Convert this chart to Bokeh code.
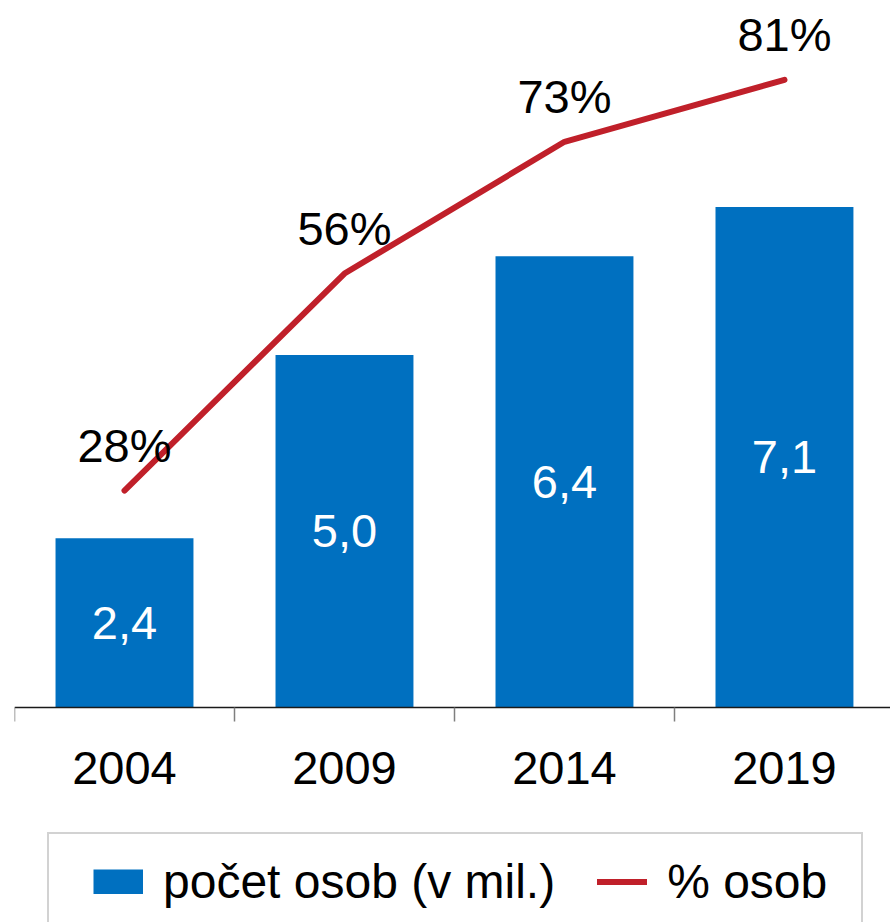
from bokeh.plotting import figure
from bokeh.models import Range1d, LinearAxis, FixedTicker, Legend, LegendItem, ColumnDataSource
from bokeh.core.properties import value
from bokeh.embed import file_html
from bokeh.resources import INLINE

years = ["2004", "2009", "2014", "2019"]
count_mil = [2.4, 5.0, 6.4, 7.1]
count_labels = ["2,4", "5,0", "6,4", "7,1"]
share_pct = [28, 56, 73, 81]
share_labels = ["28%", "56%", "73%", "81%"]

FONT = "Liberation Sans"
BLUE = "#0070C0"
RED = "#C0202A"

xpos = [i + 0.5 for i in range(len(years))]
src = ColumnDataSource(dict(
    x=xpos, cnt=count_mil, mid=[c / 2 for c in count_mil], cnt_lab=count_labels,
    pct=share_pct, pct_lab=share_labels))

p = figure(width=890, height=922, output_backend="svg", toolbar_location=None,
           x_range=Range1d(0, 3.982), y_range=Range1d(-3.050, 10.028),
           x_axis_location=None, y_axis_location=None,
           min_border_left=14, min_border_right=0, min_border_top=0, min_border_bottom=0)
p.extra_y_ranges = {"pct": Range1d(-27.74, 91.23)}
p.outline_line_color = None
p.grid.visible = False

bars = p.vbar(x="x", top="cnt", bottom=0, width=0.627, source=src,
              fill_color=BLUE, line_color=None)
line = p.line(x="x", y="pct", source=src, y_range_name="pct",
              line_color=RED, line_width=6, line_cap="round", line_join="round")

p.text(x="x", y="mid", text="cnt_lab", source=src, text_color="white",
       text_font=value(FONT), text_font_size="47px", text_align="center",
       text_baseline="middle")
p.text(x="x", y="pct", text="pct_lab", source=src, y_range_name="pct",
       text_color="black", text_font=value(FONT), text_font_size="47px",
       text_align="center", text_baseline="middle", y_offset=-45)

# legend proxy for the bar series (flat swatch)
swatch = p.line(x=[float("nan")], y=[float("nan")], line_color=BLUE, line_width=25,
                line_cap="butt")

xaxis = LinearAxis(
    ticker=FixedTicker(ticks=xpos, minor_ticks=list(range(len(years) + 1))),
    major_label_overrides={xv: lab for xv, lab in zip(xpos, years)},
    fixed_location=0)
xaxis.axis_line_color = "#1a1a1a"
xaxis.axis_line_width = 1.5
xaxis.major_tick_line_color = None
xaxis.major_tick_out = 0
xaxis.major_tick_in = 0
xaxis.minor_tick_line_color = "#7f7f7f"
xaxis.minor_tick_line_width = 1.5
xaxis.minor_tick_out = 14
xaxis.minor_tick_in = 0
xaxis.major_label_text_font = FONT
xaxis.major_label_text_font_size = "47px"
xaxis.major_label_text_color = "black"
xaxis.major_label_standoff = 31
p.add_layout(xaxis, "below")

legend = Legend(
    items=[LegendItem(label="počet osob (v mil.)", renderers=[swatch]),
           LegendItem(label="% osob", renderers=[line])],
    orientation="horizontal", location=(33, -9),
    glyph_width=50, glyph_height=25, label_standoff=20, spacing=42, padding=20,
    label_width=174,
    label_text_font=FONT, label_text_font_size="48px", label_text_color="black",
    border_line_color="#A6A6A6", border_line_width=2, background_fill_alpha=0,
    title=" ", title_location="left", title_text_font_size="6px", title_standoff=18)
p.add_layout(legend)

open("out.html", "w").write(file_html(p, INLINE))
